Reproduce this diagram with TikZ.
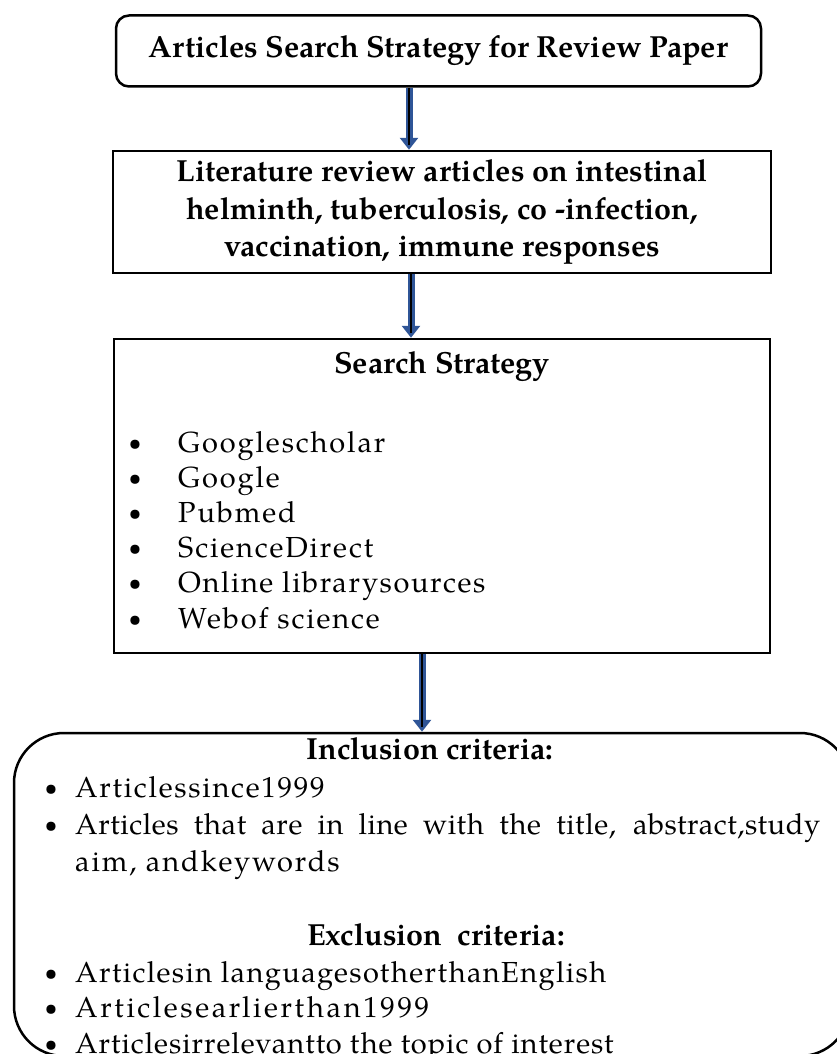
\documentclass[tikz,border=0pt]{standalone}
\usepackage{fontspec}
\setmainfont{TeX Gyre Pagella}
\usetikzlibrary{arrows.meta}
\definecolor{arrowblue}{RGB}{47,85,151}
\newcommand\spaced[2]{{\addfontfeature{LetterSpace=#1}#2}}
\newcommand\bul{\raisebox{2pt}{\fontsize{23}{23}\selectfont\textbullet}}
\tikzset{
  box/.style={draw=black, line width=2.5pt, rectangle, inner sep=0pt},
  boldtext/.style={font=\fontsize{30.5}{37.5}\selectfont\bfseries, inner sep=0pt},
  plaintext/.style={font=\fontsize{29}{36}\selectfont, inner sep=0pt},
  flowshaft/.style={arrowblue, line width=7pt, -{Triangle[width=18pt,length=12pt]}},
  flowcore/.style={black, line width=2.5pt, shorten >=5pt},
}
\begin{document}
\begin{tikzpicture}[x=1pt,y=-1pt]
\useasboundingbox (0,0) rectangle (837,1054);
\begin{scope}
  \clip (0,0) rectangle (837,1054);
  \node[box, rounded corners=50pt, minimum width=836pt, minimum height=323pt] (crit) at (432,894.5) {};
\end{scope}

\node[box, rounded corners=13pt, minimum width=645pt, minimum height=71pt, boldtext] (top) at (438.5,51) {Articles Search Strategy for Review Paper};

\node[box, minimum width=658pt, minimum height=122pt, boldtext, align=center] (lit) at (442,212)
  {Literature review articles on intestinal\\ helminth, tuberculosis, co -infection,\\ vaccination, immune responses};

\node[box, minimum width=656pt, minimum height=314pt] (search) at (442,496) {};
\node[boldtext] (stitle) at (442,367) {Search Strategy};
\foreach \t/\ls [count=\i] in {Googlescholar/6.5, Google/6.5, Pubmed/6.5, ScienceDirect/6.5, Online librarysources/5.5, Webof science/6.5} {
  \node[plaintext, anchor=base west] (s\i) at (178,{452+35.2*(\i-1)}) {\spaced{\ls}{\t}};
  \node[plaintext, anchor=base] (sb\i) at (135,{452+35.2*(\i-1)}) {\bul};
}

\node[boldtext] (inc) at (430,749) {Inclusion criteria:};
\node[plaintext, anchor=base] (ib1) at (51,797) {\bul};
\node[plaintext, anchor=base west] (i1) at (75,797) {\spaced{6}{Articlessince1999}};
\node[plaintext, anchor=base] (ib2) at (51,834) {\bul};
\node[plaintext, anchor=base west] (i2) at (75,834) {\spaced{2}{\makebox[745pt][s]{Articles that are in line with the title, abstract,study}}};
\node[plaintext, anchor=base west] (i3) at (75,871) {\spaced{6.7}{aim, andkeywords}};

\node[boldtext] (exc) at (436,935) {Exclusion\ \ criteria:};
\node[plaintext, anchor=base] (eb1) at (51,982) {\bul};
\node[plaintext, anchor=base west] (e1) at (75,982) {\spaced{4.8}{Articlesin languagesotherthanEnglish}};
\node[plaintext, anchor=base] (eb2) at (51,1017) {\bul};
\node[plaintext, anchor=base west] (e2) at (75,1017) {\spaced{9}{Articlesearlierthan1999}};
\node[plaintext, anchor=base] (eb3) at (51,1053) {\bul};
\node[plaintext, anchor=base west] (e3) at (75,1053) {\spaced{3.4}{Articlesirrelevantto the topic of interest}};

\coordinate (ax1) at (409,0);
\coordinate (ax2) at (411,0);
\coordinate (ax3) at (422,0);
\draw[flowshaft] (ax1 |- top.south) -- (ax1 |- lit.north);
\draw[flowcore] (ax1 |- top.south) -- (ax1 |- lit.north);
\draw[flowshaft] (ax2 |- lit.south) -- (ax2 |- search.north);
\draw[flowcore] (ax2 |- lit.south) -- (ax2 |- search.north);
\draw[flowshaft] (ax3 |- search.south) -- (ax3 |- crit.north);
\draw[flowcore] (ax3 |- search.south) -- (ax3 |- crit.north);
\end{tikzpicture}
\end{document}
